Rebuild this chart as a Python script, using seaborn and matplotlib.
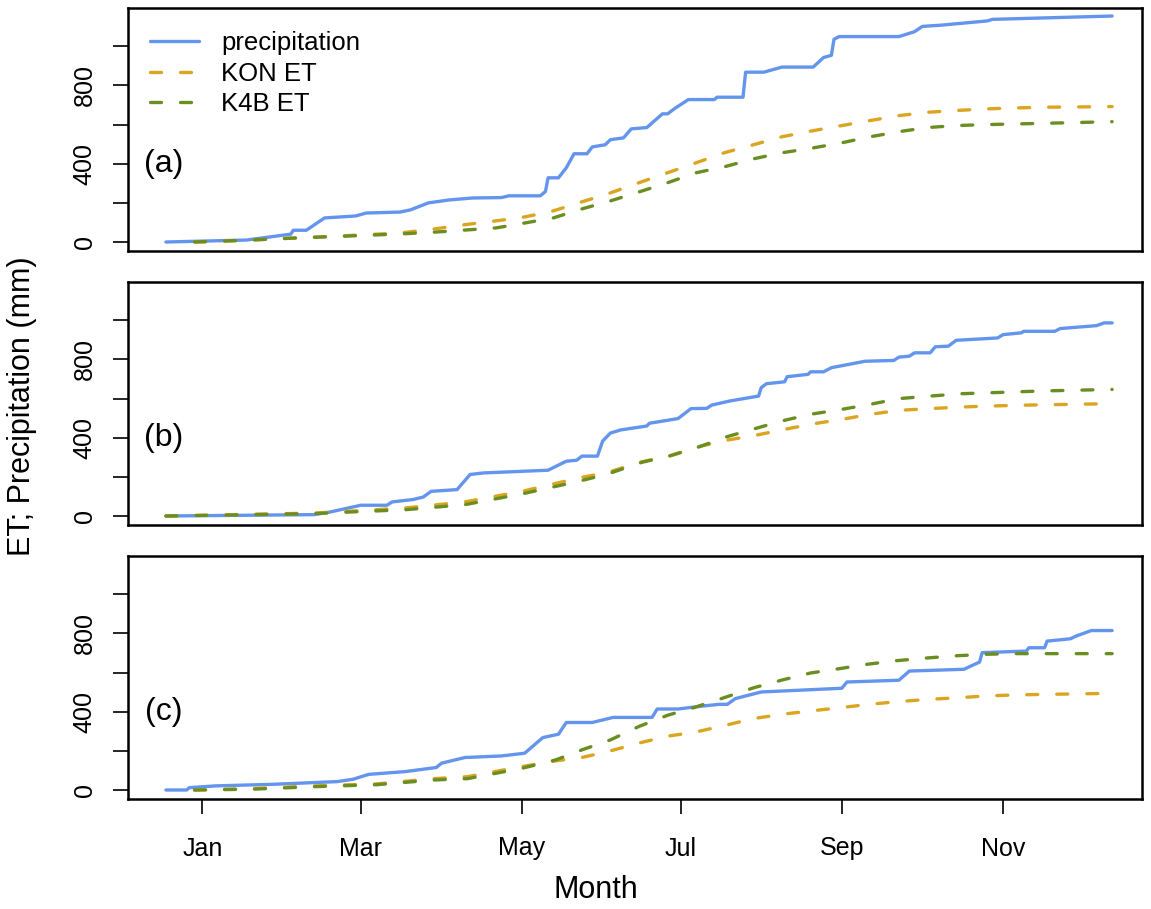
import numpy as np
import pandas as pd
import matplotlib
matplotlib.use("Agg")
import matplotlib.pyplot as plt
from matplotlib.ticker import FixedLocator
import seaborn as sns

sns.set_theme(style="ticks")
plt.rcParams['font.family'] = ['Liberation Sans', 'DejaVu Sans']
plt.rcParams['text.color'] = 'black'
plt.rcParams['axes.labelcolor'] = 'black'
plt.rcParams['xtick.color'] = 'black'
plt.rcParams['ytick.color'] = 'black'
plt.rcParams['axes.edgecolor'] = 'black'

# cumulative totals (mm) against day of year
# panel (a)
a_precip_doy = [1, 32, 49, 50, 55, 62, 74, 78, 91, 95, 102, 110, 119, 130, 133, 145, 147, 148, 152, 155,
                158, 163, 165, 170, 172, 177, 180, 186, 192, 194, 197, 202, 212, 213, 223, 224, 231, 238, 250, 254,
                257, 258, 260, 283, 289, 292, 299, 317, 319, 365]
a_precip = [0, 10, 40, 60, 60, 123, 133, 148, 153, 164, 200, 215, 225, 227, 236, 236, 258, 328, 328, 379,
            451, 451, 486, 497, 523, 532, 578, 585, 655, 655, 685, 728, 728, 740, 740, 868, 868, 894, 894, 943,
            954, 1036, 1050, 1050, 1075, 1102, 1108, 1130, 1138, 1155]
a_et_doy = [12, 30, 50, 70, 91, 105, 115, 128, 139, 150, 161, 172, 183, 194, 205, 216, 227, 238, 250, 261,
            272, 283, 294, 305, 316, 327, 340, 365]
a_kon = [0, 8, 20, 32, 46, 68, 87, 108, 128, 159, 205, 251, 303, 354, 405, 457, 497, 538, 569, 595,
         621, 646, 663, 672, 680, 685, 689, 692]
a_k4b = [0, 8, 20, 30, 41, 51, 60, 72, 97, 123, 169, 210, 256, 303, 354, 385, 425, 456, 481, 507,
         538, 564, 585, 595, 600, 603, 607, 615]

# panel (b)
b_precip_doy = [1, 58, 64, 76, 86, 88, 96, 100, 103, 113, 118, 123, 148, 155, 159, 161, 167, 169, 172, 176,
                186, 187, 198, 203, 209, 211, 218, 229, 230, 232, 239, 240, 248, 249, 254, 257, 270, 281, 283, 287,
                289, 295, 297, 302, 305, 321, 323, 330, 331, 343, 345, 359, 362, 365]
b_precip = [0, 7, 20, 55, 55, 72, 84, 97, 126, 135, 212, 220, 234, 280, 285, 306, 306, 383, 424, 440,
            460, 474, 498, 549, 550, 567, 588, 613, 656, 676, 686, 712, 724, 737, 737, 758, 791, 795, 812, 817,
            834, 834, 865, 868, 898, 910, 927, 936, 944, 944, 958, 973, 987, 987]
b_et_doy = [1, 58, 71, 93, 116, 138, 160, 171, 184, 195, 206, 217, 228, 238, 249, 261, 272, 283, 295, 307,
            318, 329, 341, 365]
b_kon = [0, 15, 24, 41, 72, 126, 195, 223, 277, 308, 355, 388, 413, 440, 469, 494, 520, 540, 549, 557,
         562, 566, 569, 574]
b_k4b = [0, 12, 20, 32, 58, 113, 178, 215, 274, 308, 353, 406, 448, 486, 520, 545, 571, 600, 613, 625,
         630, 635, 640, 647]

# panel (c)
c_precip_doy = [1, 9, 10, 20, 42, 67, 73, 79, 93, 105, 107, 116, 130, 139, 146, 152, 155, 165, 173, 188,
                190, 198, 208, 214, 217, 220, 225, 230, 261, 263, 283, 287, 308, 314, 315, 332, 333, 339, 340, 349,
                351, 357, 365]
c_precip = [0, 0, 12, 21, 29, 43, 55, 80, 94, 115, 137, 166, 174, 188, 268, 285, 345, 345, 371, 371,
            414, 414, 430, 438, 438, 467, 484, 501, 520, 552, 561, 608, 617, 654, 702, 710, 727, 727, 761, 773,
            786, 815, 815]
c_et_doy = [12, 34, 58, 82, 104, 117, 138, 151, 161, 172, 183, 194, 205, 216, 227, 238, 249, 260, 271, 282,
            294, 305, 317, 328, 340, 365]
c_kon = [0, 7, 21, 31, 58, 68, 120, 149, 166, 200, 240, 275, 297, 330, 365, 387, 404, 420, 437, 451,
         463, 471, 481, 486, 489, 494]
c_k4b = [0, 4, 17, 27, 51, 58, 111, 154, 205, 256, 325, 382, 425, 473, 522, 562, 598, 620, 643, 661,
         675, 686, 694, 697, 697, 697]

month_labels = ["Jan", "Mar", "May", "Jul", "Sep", "Nov"]
month_doy = [15, 76, 138, 199, 261, 323]
panel_tags = ["(a)", "(b)", "(c)"]
series_names = ["precipitation", "KON ET", "K4B ET"]

panels = [
    (a_precip_doy, a_precip, a_et_doy, a_kon, a_k4b),
    (b_precip_doy, b_precip, b_et_doy, b_kon, b_k4b),
    (c_precip_doy, c_precip, c_et_doy, c_kon, c_k4b),
]

blue = "#6495ED"
gold = "#DAA520"
olive = "#6B8E23"
dash = (0, (3.3, 5.7))

fig = plt.figure(figsize=(11.51, 9.09), dpi=100)
L, W, H = 128 / 1151, 1014 / 1151, 243 / 909
bottoms = [1 - 251 / 909, 1 - 525 / 909, 1 - 799 / 909]

for i, (p_doy, p_val, e_doy, kon, k4b) in enumerate(panels):
    ax = fig.add_axes([L, bottoms[i], W, H])
    lab = series_names if i == 0 else [None, None, None]
    sns.lineplot(x=p_doy, y=p_val, ax=ax, color=blue, lw=2.4, estimator=None,
                 solid_capstyle="round", solid_joinstyle="round", label=lab[0])
    sns.lineplot(x=e_doy, y=kon, ax=ax, color=gold, lw=2.4, estimator=None,
                 linestyle=dash, dash_capstyle="round", label=lab[1])
    sns.lineplot(x=e_doy, y=k4b, ax=ax, color=olive, lw=2.4, estimator=None,
                 linestyle=dash, dash_capstyle="round", label=lab[2])

    ax.set_xlim(1 - 14.6, 365 + 11.5)
    ax.set_ylim(-46, 1196)
    ax.set_xlabel("")
    ax.set_ylabel("")
    for s in ax.spines.values():
        s.set_visible(True)
        s.set_linewidth(1.8)
        s.set_color("black")

    ax.yaxis.set_major_locator(FixedLocator([0, 400, 800]))
    ax.yaxis.set_minor_locator(FixedLocator([200, 600, 1000]))
    ax.tick_params(axis="y", which="both", length=11, width=1.2, color="black",
                   labelcolor="black", direction="out", labelsize=18, pad=11.5)
    for t in ax.get_yticklabels():
        t.set_rotation(90)
        t.set_va("center")
        t.set_ha("right")

    if i == 2:
        ax.set_xticks(month_doy)
        ax.set_xticklabels(month_labels)
        ax.tick_params(axis="x", length=11, width=1.2, color="black",
                       labelcolor="black", direction="out", labelsize=18, pad=16)
    else:
        ax.set_xticks([])

    ax.text(0, 400, panel_tags[i], ha="center", va="center", fontsize=23, color="black")

    if i == 0:
        leg = ax.legend(loc="upper left", bbox_to_anchor=(0.0217, 0.905), frameon=False,
                        fontsize=18.5, handlelength=1.92, handletextpad=0.85,
                        labelspacing=0.26, borderaxespad=0, borderpad=0)
        for t in leg.get_texts():
            t.set_color("black")
    elif ax.get_legend() is not None:
        ax.get_legend().remove()

fig.text(22 / 1151, 1 - 406 / 909, "ET; Precipitation (mm)", rotation=90,
         ha="center", va="center", fontsize=22, color="black")
fig.text(596 / 1151, 1 - 890 / 909, "Month", ha="center", va="center", fontsize=22, color="black")

fig.savefig("out.png", dpi=100)
